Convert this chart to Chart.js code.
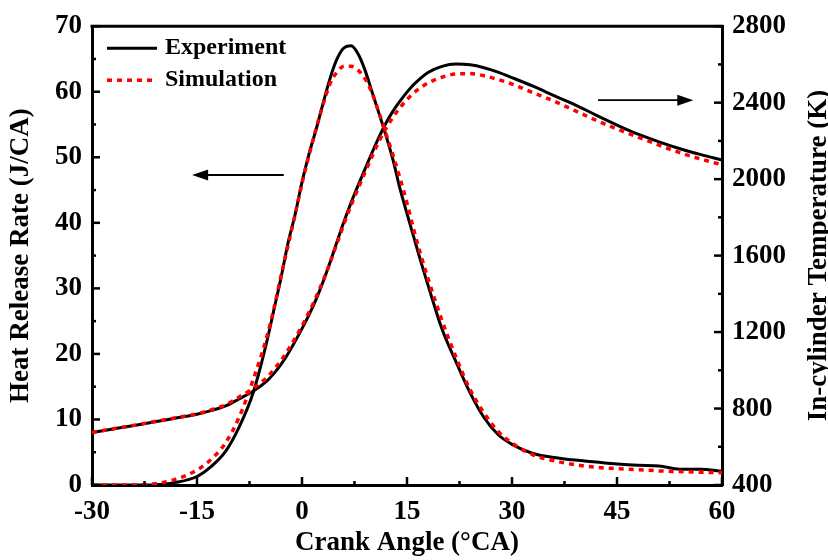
<!DOCTYPE html>
<html><head><meta charset="utf-8">
<script src="https://cdn.jsdelivr.net/npm/chart.js@4"></script>
<style>html,body{margin:0;padding:0;background:#fff}#wrap{width:828px;height:560px}</style>
</head><body><div id="wrap"><canvas id="c" width="828" height="560"></canvas></div>
<script>
const crankAngle = [-30,-27,-24,-21,-18,-15,-13,-11,-9,-7,-5,-4,-3,-2,-1,0,1,2,3,4,5,6,7,8,9,10,11,12,13,14,15,16,17,18,20,22,24,26,28,30,33,36,39,42,45,48,51,54,57,60];
const hrrExperiment = [0,0,0,0.05,0.4,1.3,2.8,5.0,8.8,14.0,22.0,26.8,31.6,36.9,41.2,46.2,50.5,54.2,58.2,62.0,65.0,66.7,67.0,65.8,63.3,60.0,56.7,53.3,49.6,45.2,41.4,37.7,34.0,30.5,23.8,18.8,14.1,10.3,7.7,6.2,4.8,4.2,3.8,3.5,3.2,3.0,2.9,2.4,2.4,2.1];
const hrrSimulation = [0,0,0,0.2,0.9,2.3,3.9,6.3,10.3,16.0,22.7,27.0,31.9,36.5,41.2,46.0,50.3,54.3,58.0,61.2,63.0,63.9,63.9,63.3,62.0,59.8,56.8,53.6,50.3,46.8,43.0,38.8,35.0,31.5,25.1,19.5,14.6,11.0,8.2,6.4,4.6,3.7,3.1,2.7,2.5,2.35,2.15,2.05,1.95,1.85];
const tempExperiment = [675,693,711,731,750,770,789,812,850,890,945,984,1031,1087,1150,1218,1290,1370,1462,1564,1672,1778,1876,1966,2052,2138,2220,2294,2356,2408,2455,2496,2530,2558,2590,2602,2598,2583,2560,2531,2486,2437,2389,2335,2283,2235,2195,2159,2128,2100];
const tempSimulation = [675,694,712,732,752,772,793,818,860,905,963,1005,1052,1106,1166,1232,1304,1382,1468,1562,1664,1766,1862,1950,2035,2118,2198,2266,2324,2374,2416,2452,2480,2503,2533,2550,2552,2541,2521,2497,2452,2408,2358,2308,2262,2220,2178,2138,2105,2075];
const xTicks = [-30,-15,0,15,30,45,60];
const hrrTicks = [0,10,20,30,40,50,60,70];
const tempTicks = [400,800,1200,1600,2000,2400,2800];
const seriesNames = ['Experiment','Simulation'];
const axisTitles = {x:'Crank Angle (°CA)', y:'Heat Release Rate (J/CA)', y2:'In-cylinder Temperature (K)'};

const FONT = '"Liberation Serif","Times New Roman",serif';
const pts = (ys) => crankAngle.map((x,i)=>({x, y: ys[i]}));

function minors(arr){const m=[];for(let i=0;i<arr.length-1;i++)m.push((arr[i]+arr[i+1])/2);return m;}

const decor = {
  id:'decor',
  afterDraw(chart){
    const ctx = chart.ctx, a = chart.chartArea;
    const sx = chart.scales.x, sy = chart.scales.y, sy2 = chart.scales.y2;
    ctx.save();
    ctx.strokeStyle = '#000';
    ctx.lineWidth = 3;
    ctx.beginPath(); ctx.moveTo(a.left-1.5, a.top); ctx.lineTo(a.right+1.5, a.top); ctx.stroke();
    ctx.lineWidth = 2.5;
    const tick = (x1,y1,x2,y2)=>{ctx.beginPath();ctx.moveTo(x1,y1);ctx.lineTo(x2,y2);ctx.stroke();};
    xTicks.forEach(v=>{const p=sx.getPixelForValue(v); tick(p,a.bottom,p,a.bottom-8);});
    minors(xTicks).forEach(v=>{const p=sx.getPixelForValue(v); tick(p,a.bottom,p,a.bottom-4);});
    hrrTicks.forEach(v=>{const p=sy.getPixelForValue(v); tick(a.left,p,a.left+8,p);});
    minors(hrrTicks).forEach(v=>{const p=sy.getPixelForValue(v); tick(a.left,p,a.left+4,p);});
    tempTicks.forEach(v=>{const p=sy2.getPixelForValue(v); tick(a.right,p,a.right-8,p);});
    minors(tempTicks).forEach(v=>{const p=sy2.getPixelForValue(v); tick(a.right,p,a.right-4,p);});
    // legend
    ctx.font = 'bold 24px ' + FONT;
    ctx.textBaseline = 'middle';
    ctx.fillStyle = '#000';
    const lx = a.left + 15, ly = [a.top + 22, a.top + 54];
    ctx.lineWidth = 3; ctx.setLineDash([]);
    tick(lx, ly[0], lx+50, ly[0]);
    ctx.fillText(seriesNames[0], lx+58, ly[0]);
    ctx.strokeStyle = '#ff0000'; ctx.lineWidth = 3.5; ctx.setLineDash([5,5]);
    tick(lx, ly[1], lx+50, ly[1]);
    ctx.setLineDash([]);
    ctx.fillText(seriesNames[1], lx+58, ly[1]);
    // right axis title (reads bottom to top)
    ctx.save();
    ctx.font = 'bold 27px ' + FONT;
    ctx.textAlign = 'center';
    ctx.textBaseline = 'alphabetic';
    ctx.translate(826, (a.top + a.bottom)/2);
    ctx.rotate(-Math.PI/2);
    ctx.fillText(axisTitles.y2, 0, 0);
    ctx.restore();
    // arrows
    ctx.strokeStyle = '#000'; ctx.fillStyle = '#000'; ctx.lineWidth = 1.8;
    const arrow = (x1,x2,y)=>{
      const dir = Math.sign(x2-x1);
      ctx.beginPath(); ctx.moveTo(x1,y); ctx.lineTo(x2-dir*12,y); ctx.stroke();
      ctx.beginPath(); ctx.moveTo(x2,y); ctx.lineTo(x2-dir*16,y-5.5); ctx.lineTo(x2-dir*16,y+5.5); ctx.closePath(); ctx.fill();
    };
    arrow(sx.getPixelForValue(-2.6), sx.getPixelForValue(-15.7), sy.getPixelForValue(47.3));
    arrow(sx.getPixelForValue(42.3), sx.getPixelForValue(55.9), sy2.getPixelForValue(2413));
    ctx.restore();
  }
};

const tickFont = {family:FONT, weight:'bold', size:27};
const titleFont = {family:FONT, weight:'bold', size:27};

new Chart(document.getElementById('c'), {
  type:'line',
  data:{datasets:[
    {label:'Experiment HRR', data:pts(hrrExperiment), yAxisID:'y', borderColor:'#000', borderWidth:3, pointRadius:0, cubicInterpolationMode:'monotone', order:2},
    {label:'Experiment T', data:pts(tempExperiment), yAxisID:'y2', borderColor:'#000', borderWidth:3, pointRadius:0, cubicInterpolationMode:'monotone', order:2},
    {label:'Simulation HRR', data:pts(hrrSimulation), yAxisID:'y', borderColor:'#ff0000', borderWidth:3.5, borderDash:[5,5], pointRadius:0, cubicInterpolationMode:'monotone', order:1},
    {label:'Simulation T', data:pts(tempSimulation), yAxisID:'y2', borderColor:'#ff0000', borderWidth:3.5, borderDash:[5,5], pointRadius:0, cubicInterpolationMode:'monotone', order:1}
  ]},
  options:{
    responsive:false, animation:false, devicePixelRatio:1,
    layout:{padding:{top:20,left:0,right:0,bottom:0}},
    plugins:{legend:{display:false}, tooltip:{enabled:false}},
    scales:{
      x:{type:'linear', min:-30, max:60,
        afterBuildTicks(s){s.ticks = xTicks.map(v=>({value:v}));},
        afterFit(s){s.height = 75;},
        grid:{display:false, drawTicks:false},
        border:{display:true, color:'#000', width:3},
        ticks:{color:'#000', padding:11, font:tickFont, maxRotation:0, autoSkip:false, callback:v=>String(v)},
        title:{display:true, text:axisTitles.x, color:'#000', font:titleFont, padding:{top:0,bottom:1}}
      },
      y:{type:'linear', position:'left', min:0, max:70,
        afterBuildTicks(s){s.ticks = hrrTicks.map(v=>({value:v}));},
        afterFit(s){s.width = 92;},
        grid:{display:false, drawTicks:false},
        border:{display:true, color:'#000', width:3},
        ticks:{color:'#000', padding:10, font:tickFont, autoSkip:false, callback:v=>String(v)},
        title:{display:true, text:axisTitles.y, color:'#000', font:titleFont, padding:{top:5,bottom:0}}
      },
      y2:{type:'linear', position:'right', min:400, max:2800,
        afterBuildTicks(s){s.ticks = tempTicks.map(v=>({value:v}));},
        afterFit(s){s.width = 106;},
        grid:{display:false, drawTicks:false},
        border:{display:true, color:'#000', width:3},
        ticks:{color:'#000', padding:10, font:tickFont, autoSkip:false, callback:v=>String(v)},
        title:{display:false}
      }
    }
  },
  plugins:[decor]
});
</script></body></html>
